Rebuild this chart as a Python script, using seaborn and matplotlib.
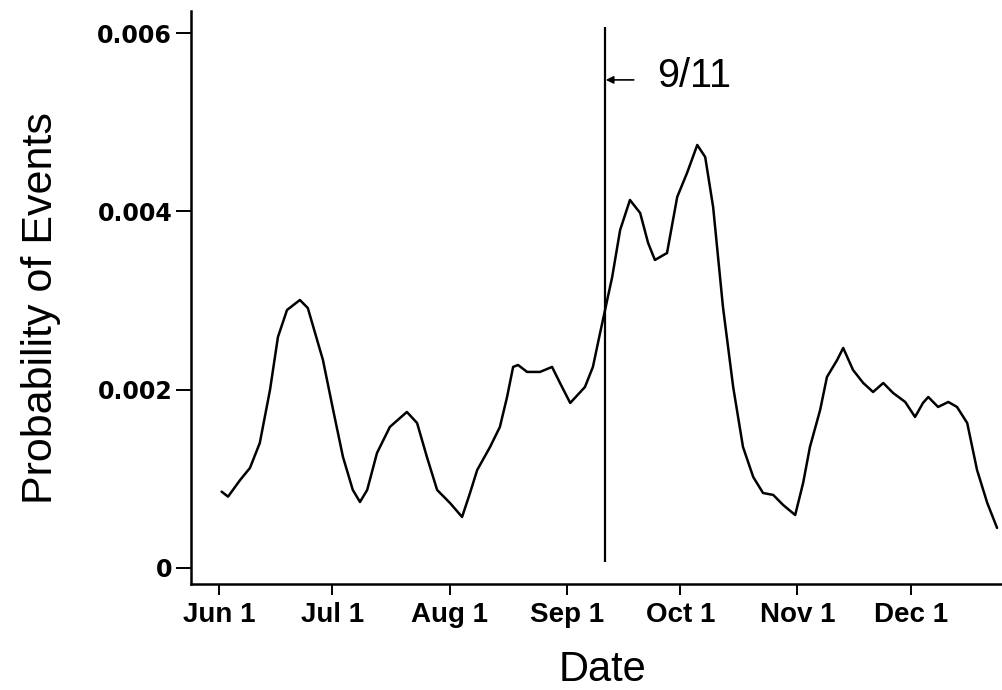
import numpy as np
import pandas as pd
import matplotlib
matplotlib.use("Agg")
import matplotlib.pyplot as plt
import seaborn as sns

# ---- data ----
start_date = "2001-06-01"
day_offsets = [0.7, 2.4, 5.6, 8.2, 10.8, 13.5, 15.6, 18.0, 21.4, 23.5, 27.5, 30.2,
               32.8, 35.4, 37.3, 39.2, 41.8, 45.2, 49.7, 52.4, 55.0, 57.7, 61.1,
               64.3, 66.4, 68.3, 71.7, 74.3, 76.2, 77.8, 79.1, 81.5, 84.9, 88.1,
               90.2, 92.9, 96.8, 98.9, 100.8, 104.0, 106.1, 108.7, 111.4, 113.5,
               115.3, 118.5, 121.2, 123.8, 126.5, 128.6, 130.7, 133.3, 136.0,
               138.6, 141.3, 143.9, 146.6, 149.2, 152.4, 154.5, 156.3, 159.0,
               160.8, 163.5, 165.1, 167.7, 170.4, 173.0, 175.7, 178.3, 181.5,
               184.1, 186.2, 187.6, 190.2, 192.9, 195.2, 197.9, 200.5, 203.2, 205.8]
probability = [0.000856, 0.000800, 0.000987, 0.001122, 0.001402, 0.001997, 0.002591,
               0.002894, 0.003006, 0.002916, 0.002333, 0.001772, 0.001245, 0.000875,
               0.000740, 0.000875, 0.001290, 0.001582, 0.001750, 0.001626, 0.001245,
               0.000875, 0.000729, 0.000572, 0.000841, 0.001099, 0.001357, 0.001582,
               0.001918, 0.002255, 0.002277, 0.002199, 0.002199, 0.002255, 0.002075,
               0.001851, 0.002030, 0.002255, 0.002636, 0.003264, 0.003791, 0.004128,
               0.003982, 0.003646, 0.003455, 0.003533, 0.004162, 0.004431, 0.004745,
               0.004610, 0.004049, 0.002928, 0.002030, 0.001357, 0.001021, 0.000841,
               0.000819, 0.000707, 0.000594, 0.000953, 0.001357, 0.001772, 0.002142,
               0.002333, 0.002468, 0.002221, 0.002075, 0.001974, 0.002075, 0.001963,
               0.001862, 0.001694, 0.001851, 0.001918, 0.001806, 0.001862, 0.001806,
               0.001626, 0.001099, 0.000729, 0.000449]
xtick_dates = ["2001-06-01", "2001-07-01", "2001-08-01", "2001-09-01",
               "2001-10-01", "2001-11-01", "2001-12-01"]
xtick_labels = ["Jun 1", "Jul 1", "Aug 1", "Sep 1", "Oct 1", "Nov 1", "Dec 1"]
ytick_values = [0, 0.002, 0.004, 0.006]
ytick_labels = ["0", "0.002", "0.004", "0.006"]
event_date = "2001-09-11"
event_label = "9/11"
x_label = "Date"
y_label = "Probability of Events"

# ---- figure ----
sns.set_theme(style="white")
plt.rcParams["font.family"] = ["Liberation Sans", "DejaVu Sans"]

fig = plt.figure(figsize=(10.02, 6.9), dpi=100)
fig.patch.set_facecolor("white")
ax = fig.add_axes([0.1906, 0.15362, 0.8094, 0.83044])
ax.set_facecolor("white")

start = pd.Timestamp(start_date)
df = pd.DataFrame({"date": start + pd.to_timedelta(day_offsets, unit="D"),
                   "prob": probability})
sns.lineplot(data=df, x="date", y="prob", ax=ax, color="black", lw=1.8)
for ln in ax.lines:
    ln.set_solid_joinstyle("round")
    ln.set_solid_capstyle("round")

ev = pd.Timestamp(event_date)
ax.vlines(ev, 0.00007, 0.00607, color="black", lw=1.6)
day = pd.Timedelta(days=1)
ax.annotate("", xy=(ev + 0.3 * day, 0.005475), xytext=(ev + 7.7 * day, 0.005475),
            arrowprops=dict(arrowstyle="-|>", color="black", lw=1.2,
                            mutation_scale=11, shrinkA=0, shrinkB=0))
ax.text(ev + 13.9 * day, 0.00552, event_label, ha="left", va="center",
        fontsize=28.5, color="black")

ax.set_xlim(start - 7.4 * day, start + 207.1 * day)
ax.set_ylim(-0.00018, 0.006248)
ax.set_xticks(pd.to_datetime(xtick_dates))
ax.set_xticklabels(xtick_labels, fontweight="bold", fontsize=20)
ax.set_yticks(ytick_values)
ax.set_yticklabels(ytick_labels, fontweight="bold", fontsize=17,
                   family=["DejaVu Sans"])
ax.tick_params(axis="x", which="major", bottom=True, direction="out",
               length=8, width=1.4, color="black", labelcolor="black", pad=5)
ax.tick_params(axis="y", which="major", left=True, direction="out",
               length=11, width=1.4, color="black", labelcolor="black", pad=2.5)

sns.despine(ax=ax)
for s in ("left", "bottom"):
    ax.spines[s].set_color("black")
    ax.spines[s].set_linewidth(1.8)

ax.set_xlabel(x_label, fontsize=30, color="black")
ax.set_ylabel(y_label, fontsize=31, color="black")
ax.xaxis.set_label_coords(0.507, -0.115)
ax.yaxis.set_label_coords(-0.160, 0.4817)

fig.savefig("out.png", dpi=100, facecolor="white")
